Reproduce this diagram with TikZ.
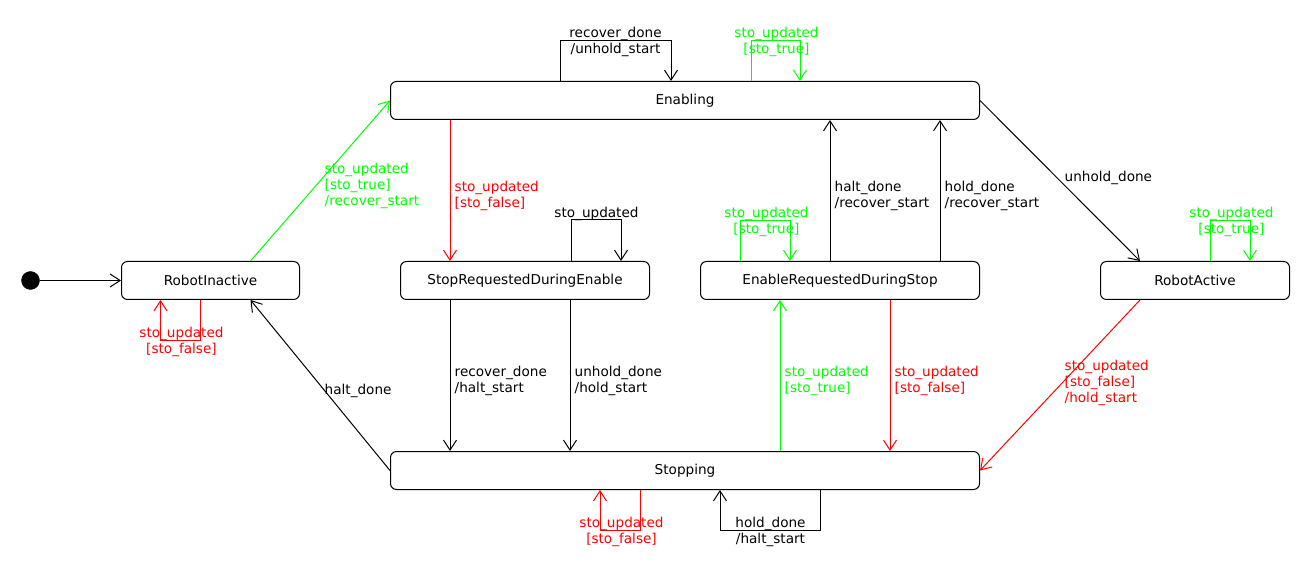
\documentclass[tikz,border=0pt]{standalone}
\usepackage{fontspec}
\setmainfont{DejaVu Sans}
\usetikzlibrary{arrows.meta}
\definecolor{sgreen}{RGB}{0,255,0}
\definecolor{sred}{RGB}{255,0,0}
\begin{document}
\begin{tikzpicture}[x=1pt,y=-1pt,
  font=\fontsize{13.6}{16}\selectfont,
  state/.style={draw,line width=1pt,rounded corners=6pt,minimum height=38pt,inner sep=0pt},
  tr/.style={line width=1pt,-{Straight Barb[length=10pt,width=13pt,line width=1pt]}},
  lbl/.style={inner sep=0pt,anchor=north west,align=left},
  lblc/.style={inner sep=0pt,anchor=north,align=center},
  gr/.style={draw=sgreen,text=sgreen},
  rd/.style={draw=sred,text=sred}]
\useasboundingbox (0,0) rectangle (1310,580);
\begin{scope}[shift={(0.5,0.5)}]
% states
\node[circle,fill=black,draw=black,minimum size=18pt,inner sep=0pt] (init) at (30,280) {};
\node[state,minimum width=178pt] (ri) at (210,280) {RobotInactive};
\node[state,minimum width=589pt] (en) at (684.5,100) {Enabling};
\node[state,minimum width=249pt] (srde) at (524.5,280) {StopRequestedDuringEnable};
\node[state,minimum width=279pt] (erds) at (839.5,280) {EnableRequestedDuringStop};
\node[state,minimum width=189pt] (ra) at (1194.5,280) {RobotActive};
\node[state,minimum width=589pt] (st) at (684.5,470) {Stopping};
% initial
\draw[tr] (init) -- (ri.west);
% RobotInactive -> Enabling
\draw[tr,gr] ([xshift=40pt]ri.north) -- (en.west);
\node[lbl,text=sgreen] (l1) at (324,162) {sto\_updated\\[0pt][sto\_true]\\/recover\_start};
% RobotInactive self loop
\draw[tr,rd] ([xshift=-10pt]ri.south) -- ++(0,40) -- ++(-40,0) -- ([xshift=-50pt]ri.south);
\node[lblc,text=sred] (l2) at (181,326) {sto\_updated\\[0pt][sto\_false]};
% Enabling -> SRDE
\draw[tr,rd] ([xshift=60pt]en.south west) -- ([xshift=50pt]srde.north west);
\node[lbl,text=sred] (l3) at (454,180) {sto\_updated\\[0pt][sto\_false]};
% SRDE self loop
\draw[tr] ([xshift=171pt]srde.north west) -- ++(0,-41) -- ++(50,0) -- ([xshift=221pt]srde.north west);
\node[lblc] (l4) at (596,206) {sto\_updated};
% Enabling black self loop
\draw[tr] ([xshift=170pt]en.north west) -- ++(0,-40) -- ++(111,0) -- ([xshift=281pt]en.north west);
\node[lblc] (l5) at (615,26) {recover\_done\\/unhold\_start};
% Enabling green self loop
\draw[tr,gr] ([xshift=361pt]en.north west) -- ++(0,-40) -- ++(49,0) -- ([xshift=410pt]en.north west);
\node[lblc,text=sgreen] (l6) at (776,26) {sto\_updated\\[0pt][sto\_true]};
% Enabling -> RobotActive
\draw[tr] (en.east) -- ([xshift=40pt]ra.north west);
\node[lbl] (l7) at (1064,170) {unhold\_done};
% ERDS -> Enabling
\draw[tr] ([xshift=130pt]erds.north west) -- ([xshift=440pt]en.south west);
\node[lbl] (l8) at (834,180) {halt\_done\\/recover\_start};
\draw[tr] ([xshift=240pt]erds.north west) -- ([xshift=550pt]en.south west);
\node[lbl] (l9) at (944,180) {hold\_done\\/recover\_start};
% ERDS green self loop
\draw[tr,gr] ([xshift=40pt]erds.north west) -- ++(0,-40) -- ++(50,0) -- ([xshift=90pt]erds.north west);
\node[lblc,text=sgreen] (l10) at (766,206) {sto\_updated\\[0pt][sto\_true]};
% RobotActive green self loop
\draw[tr,gr] ([xshift=110pt]ra.north west) -- ++(0,-40) -- ++(40,0) -- ([xshift=150pt]ra.north west);
\node[lblc,text=sgreen] (l11) at (1231,206) {sto\_updated\\[0pt][sto\_true]};
% RobotActive -> Stopping
\draw[tr,rd] ([xshift=40pt]ra.south west) -- (st.east);
\node[lbl,text=sred] (l12) at (1064,359) {sto\_updated\\[0pt][sto\_false]\\/hold\_start};
% Stopping -> ERDS green
\draw[tr,gr] ([xshift=390pt]st.north west) -- ([xshift=80pt]erds.south west);
\node[lbl,text=sgreen] (l13) at (784,365) {sto\_updated\\[0pt][sto\_true]};
% ERDS -> Stopping red
\draw[tr,rd] ([xshift=190pt]erds.south west) -- ([xshift=500pt]st.north west);
\node[lbl,text=sred] (l14) at (894,365) {sto\_updated\\[0pt][sto\_false]};
% SRDE -> Stopping
\draw[tr] ([xshift=50pt]srde.south west) -- ([xshift=60pt]st.north west);
\node[lbl] (l15) at (454,365) {recover\_done\\/halt\_start};
\draw[tr] ([xshift=170pt]srde.south west) -- ([xshift=180pt]st.north west);
\node[lbl] (l16) at (574,365) {unhold\_done\\/hold\_start};
% Stopping -> RobotInactive
\draw[tr] (st.west) -- ([xshift=40pt]ri.south);
\node[lbl] (l17) at (324,383) {halt\_done};
% Stopping red self loop
\draw[tr,rd] ([xshift=250pt]st.south west) -- ++(0,40) -- ++(-40,0) -- ([xshift=210pt]st.south west);
\node[lblc,text=sred] (l18) at (621,516) {sto\_updated\\[0pt][sto\_false]};
% Stopping black self loop
\draw[tr] ([xshift=430pt]st.south west) -- ++(0,40) -- ++(-100,0) -- ([xshift=330pt]st.south west);
\node[lblc] (l19) at (770,516) {hold\_done\\/halt\_start};
\end{scope}
\end{tikzpicture}
\end{document}
